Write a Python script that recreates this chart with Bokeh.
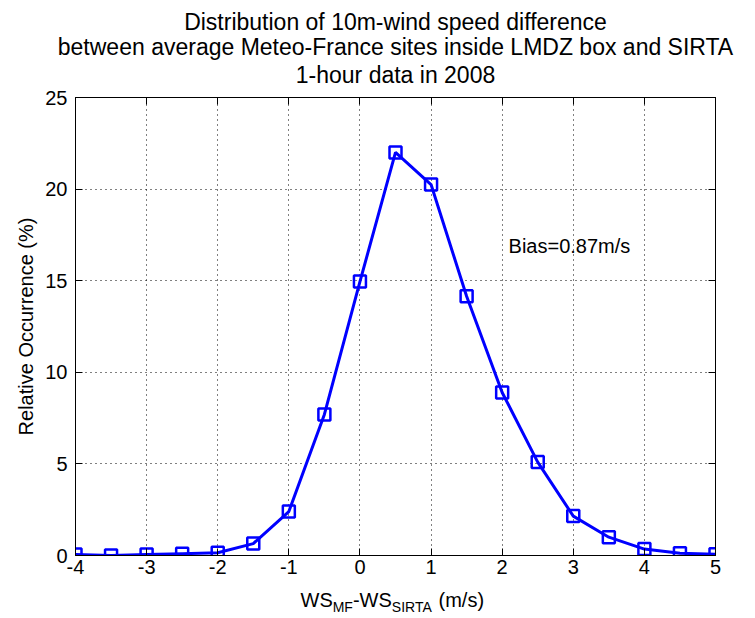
from bokeh.plotting import figure
from bokeh.models import LinearAxis, FixedTicker, Range1d, Grid, Label, Title
from bokeh.layouts import column
from bokeh.core.properties import value
from bokeh.embed import file_html
from bokeh.resources import INLINE

# ---- data ----
ws_diff = [-4.0, -3.5, -3.0, -2.5, -2.0, -1.5, -1.0, -0.5, 0.0, 0.5,
           1.0, 1.5, 2.0, 2.5, 3.0, 3.5, 4.0, 4.5, 5.0]
occurrence = [0.05, 0.0, 0.05, 0.1, 0.15, 0.65, 2.4, 7.7, 14.95, 22.0,
              20.25, 14.15, 8.9, 5.1, 2.15, 1.0, 0.35, 0.12, 0.07]
x_ticks = [-4, -3, -2, -1, 0, 1, 2, 3, 4, 5]
x_tick_labels = ["-4", "-3", "-2", "-1", "0", "1", "2", "3", "4", "5"]
y_ticks = [0, 5, 10, 15, 20, 25]
title_lines = ["Distribution of 10m-wind speed difference",
               "between average Meteo-France sites inside LMDZ box and SIRTA",
               "1-hour data in 2008"]
bias_text = "Bias=0.87m/s"
y_label = "Relative Occurrence (%)"
x_label_parts = ["WS", "MF", "-WS", "SIRTA", "(m/s)"]

FONT = "Liberation Sans"
W = 755
BH = 33
MH = 618 - BH
FL, FR = 75, 715   # frame left / right in pixels

# ---------- main plot ----------
p = figure(width=W, height=MH, x_range=Range1d(-4, 5), y_range=Range1d(0, 25),
           min_border_left=FL, min_border_right=W - FR, min_border_top=97,
           min_border_bottom=30, toolbar_location=None, output_backend="svg",
           x_axis_type=None, y_axis_type=None, title=None)
p.background_fill_color = "white"
p.border_fill_color = "white"
p.outline_line_color = "black"
p.outline_line_width = 1


def style_axis(ax, show_labels):
    ax.major_tick_in = 7
    ax.major_tick_out = 0
    ax.minor_tick_line_color = None
    ax.axis_line_color = "black"
    ax.major_tick_line_color = "black"
    ax.major_label_text_font = FONT
    ax.major_label_text_font_size = "20px"
    ax.major_label_text_color = "black"
    if not show_labels:
        ax.major_label_overrides = {t: "" for t in (x_ticks + y_ticks)}
        ax.major_label_standoff = 0


xb = LinearAxis(ticker=FixedTicker(ticks=x_ticks))
style_axis(xb, True)
xb.major_label_overrides = dict(zip(x_ticks, x_tick_labels))
xb.major_label_standoff = 4
p.add_layout(xb, "below")

yl = LinearAxis(ticker=FixedTicker(ticks=y_ticks))
style_axis(yl, True)
yl.major_label_standoff = 8
yl.axis_label = y_label
yl.axis_label_text_font = FONT
yl.axis_label_text_font_size = "20px"
yl.axis_label_text_font_style = "normal"
yl.axis_label_text_color = "black"
yl.axis_label_standoff = 5
p.add_layout(yl, "left")

xa = LinearAxis(ticker=FixedTicker(ticks=x_ticks))
style_axis(xa, False)
p.add_layout(xa, "above")

yr = LinearAxis(ticker=FixedTicker(ticks=y_ticks))
style_axis(yr, False)
p.add_layout(yr, "right")

# title: three centred lines, stacked outward from the frame (innermost first)
for txt, so in zip(title_lines[::-1], [20, -20, 13]):
    p.add_layout(Title(text=txt, align="center", text_font=FONT,
                       text_font_size="23px", text_font_style="normal",
                       text_color="black", standoff=so), "above")

p.add_layout(Grid(dimension=0, ticker=FixedTicker(ticks=x_ticks),
                  grid_line_color="black", grid_line_dash="1 4", grid_line_width=1))
p.add_layout(Grid(dimension=1, ticker=FixedTicker(ticks=y_ticks),
                  grid_line_color="black", grid_line_dash="1 4", grid_line_width=1))

p.line(ws_diff, occurrence, line_color="#0000FF", line_width=3)
p.scatter(ws_diff, occurrence, marker="square", size=12, line_color="#0000FF",
          line_width=2.5, fill_color=None)

p.add_layout(Label(x=2.09, y=16.9, text=bias_text, text_font=FONT,
                   text_font_size="20px", text_baseline="alphabetic",
                   text_color="black"))

# ---------- x-axis label strip (with subscripts) ----------
# its frame is aligned with the main frame, so the range is set to pixel columns
bot = figure(width=W, height=BH, x_range=Range1d(FL, FR), y_range=Range1d(0, BH),
             min_border_left=FL, min_border_right=W - FR, min_border_top=0,
             min_border_bottom=0, toolbar_location=None, output_backend="svg",
             x_axis_type=None, y_axis_type=None)
bot.outline_line_color = None
bot.xgrid.visible = False
bot.ygrid.visible = False
main_idx = [0, 2, 4]
sub_idx = [1, 3]
xpos = [300, 332.2, 352.4, 391.3, 438]
bot.text(x=[xpos[i] for i in main_idx], y=[19] * 3,
         text=[x_label_parts[i] for i in main_idx], text_font=value(FONT),
         text_font_size="20px", text_baseline="alphabetic", text_color="black")
bot.text(x=[xpos[i] for i in sub_idx], y=[12] * 2,
         text=[x_label_parts[i] for i in sub_idx], text_font=value(FONT),
         text_font_size="14px", text_baseline="alphabetic", text_color="black")

layout = column(p, bot, spacing=0)
open("out.html", "w").write(file_html(layout, INLINE))
